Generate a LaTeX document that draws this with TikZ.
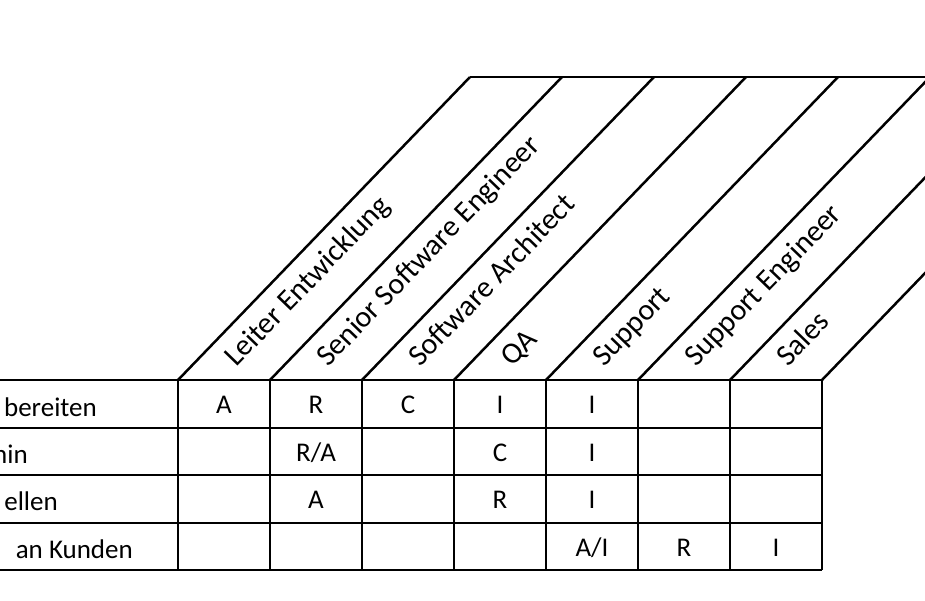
\documentclass[tikz,border=0pt]{standalone}
\usepackage{fontspec}
\setmainfont{Carlito}
\begin{document}
\begin{tikzpicture}[x=1pt,y=-1pt,
  ln/.style={line width=2.5pt,black},
  cell/.style={font=\fontsize{27}{29}\selectfont,inner sep=0pt},
  hd/.style={font=\fontsize{30}{32}\selectfont,rotate=46,anchor=base west,inner sep=0pt}]
\useasboundingbox (0,0) rectangle (925,600);
\clip (0,0) rectangle (925,600);
\foreach \y in {380,428,475,523,570} \draw[ln] (0,\y) -- (822,\y);
\foreach \x in {178,270,362,454,546,638,730,822} {
  \draw[ln] (\x,380) -- (\x,570);
  \draw[ln] (\x,380) -- ++(292,-303);
}
\draw[ln] (470,77) -- (930,77);
\foreach \x/\t/\n in {178/Leiter Entwicklung/h1,270/Senior Software Engineer/h2,362/Software Architect/h3,454/QA/h4,546/Support/h5,638/Support Engineer/h6,730/Sales/h7}
  \node[hd] (\n) at (\x+58,368) {\t};
\node[cell,anchor=base east] (r1) at (97,416) {bereiten};
\node[cell,anchor=base east] (r2) at (28,463) {hin};
\node[cell,anchor=base east] (r3) at (58,510) {ellen};
\node[cell,anchor=base east] (r4) at (133,558) {an Kunden};
\foreach \c/\r/\t/\n in {1/1/A/a1,2/1/R/a2,3/1/C/a3,4/1/I/a4,5/1/I/a5,
  4/2/C/b4,5/2/I/b5,2/3/A/c2,4/3/R/c4,5/3/I/c5,6/4/R/d6,7/4/I/d7}
  \node[cell] (\n) at ({178+92*(\c-1)+46},{380+47.5*(\r-1)+25}) {\t};
\node[cell] (b2) at (316,452.5) {R/A};
\node[cell] (d5) at (592,547.5) {A/I};
\end{tikzpicture}
\end{document}
